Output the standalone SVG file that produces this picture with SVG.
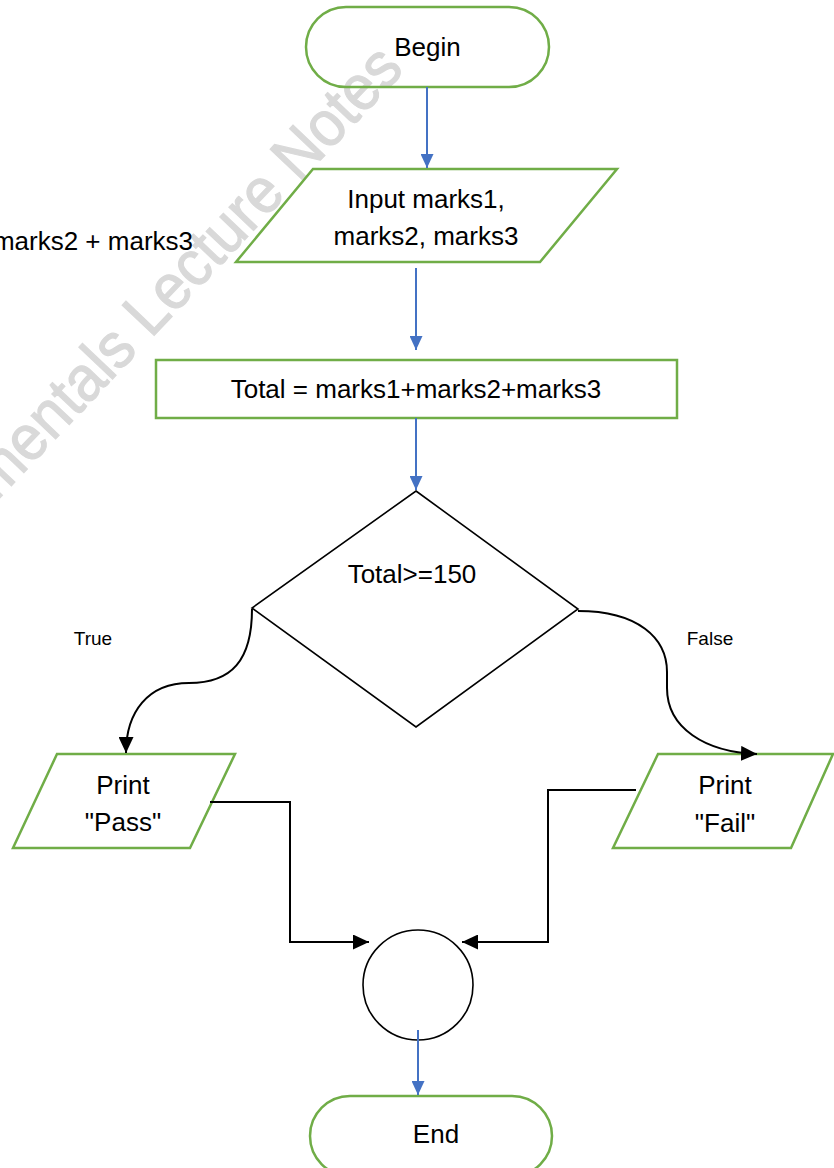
<svg xmlns="http://www.w3.org/2000/svg" width="834" height="1168" viewBox="0 0 834 1168">
<defs>
<style>
.t{font-family:"Liberation Sans",Arial,sans-serif;font-size:26px;fill:#000;text-anchor:middle}
.s{font-family:"Liberation Sans",Arial,sans-serif;font-size:19px;fill:#000;text-anchor:middle}
.g{fill:none;stroke:#70AD47;stroke-width:2.5}
.k{fill:#fff;stroke:#000;stroke-width:1.6}
.cb{fill:none;stroke:#4472C4;stroke-width:2}
.ck{fill:none;stroke:#000;stroke-width:2}
.wm{font-family:"Liberation Sans",Arial,sans-serif;font-size:64px;fill:#D9D9D9;stroke:#D9D9D9;stroke-width:1.2}
</style>
<marker id="ab" markerWidth="14" markerHeight="13" refX="14" refY="6.5" orient="auto" markerUnits="userSpaceOnUse"><path d="M0,0 L14,6.5 L0,13 z" fill="#4472C4"/></marker>
<marker id="ak" markerWidth="16" markerHeight="15" refX="16" refY="7.5" orient="auto" markerUnits="userSpaceOnUse"><path d="M0,0 L16,7.5 L0,15 z" fill="#000"/></marker>
</defs>
<rect width="834" height="1168" fill="#fff"/>
<text class="wm" transform="translate(-4,502) rotate(-46.5)" textLength="595" lengthAdjust="spacingAndGlyphs">mentals Lecture Notes</text>
<text class="t" x="193" y="250" style="text-anchor:end">marks2 + marks3</text>
<g id="begin"><rect class="g" x="306" y="7" width="243" height="80" rx="40"/><text class="t" x="427.5" y="56">Begin</text></g>
<g id="input"><polygon class="g" points="313,169 617,169 540,262 236,262"/><text class="t" x="426" y="208">Input marks1,</text><text class="t" x="426" y="245">marks2, marks3</text></g>
<g id="total"><rect class="g" x="156" y="360" width="521" height="58"/><text class="t" x="416" y="398">Total = marks1+marks2+marks3</text></g>
<g id="decision"><polygon class="k" points="416,491 578,609 416,727 252,608"/><text class="t" x="412" y="583">Total&gt;=150</text></g>
<g id="pass"><polygon class="g" points="57,754 235,754 190,848 13,848"/><text class="t" x="123" y="794">Print</text><text class="t" x="123" y="831">"Pass"</text></g>
<g id="fail"><polygon class="g" points="658,754 833,754 791,848 613,848"/><text class="t" x="725" y="794">Print</text><text class="t" x="725" y="832">"Fail"</text></g>
<g id="join"><circle class="k" cx="418" cy="985" r="55"/></g>
<g id="end"><rect class="g" x="310" y="1096" width="242" height="80" rx="40"/><text class="t" x="436" y="1143">End</text></g>
<g id="labels"><text class="s" x="93" y="645">True</text><text class="s" x="710" y="645">False</text></g>
<g id="connectors">
<path class="cb" d="M427,87 L427,168" marker-end="url(#ab)"/>
<path class="cb" d="M416,268 L416,350" marker-end="url(#ab)"/>
<path class="cb" d="M416,418 L416,490" marker-end="url(#ab)"/>
<path class="ck" d="M252,609 C252,660 232,683 189,683 C148,683 126,712 126,753" marker-end="url(#ak)"/>
<path class="ck" d="M578,611 C638,611 667,638 667,672 L667,688 C667,728 705,752 757,754" marker-end="url(#ak)"/>
<path class="ck" d="M210,802 L290,802 L290,942 L369,942" marker-end="url(#ak)"/>
<path class="ck" d="M636,790 L548,790 L548,942 L462,942" marker-end="url(#ak)"/>
<path class="cb" d="M418,1030 L418,1095" marker-end="url(#ab)"/>
</g>
</svg>
